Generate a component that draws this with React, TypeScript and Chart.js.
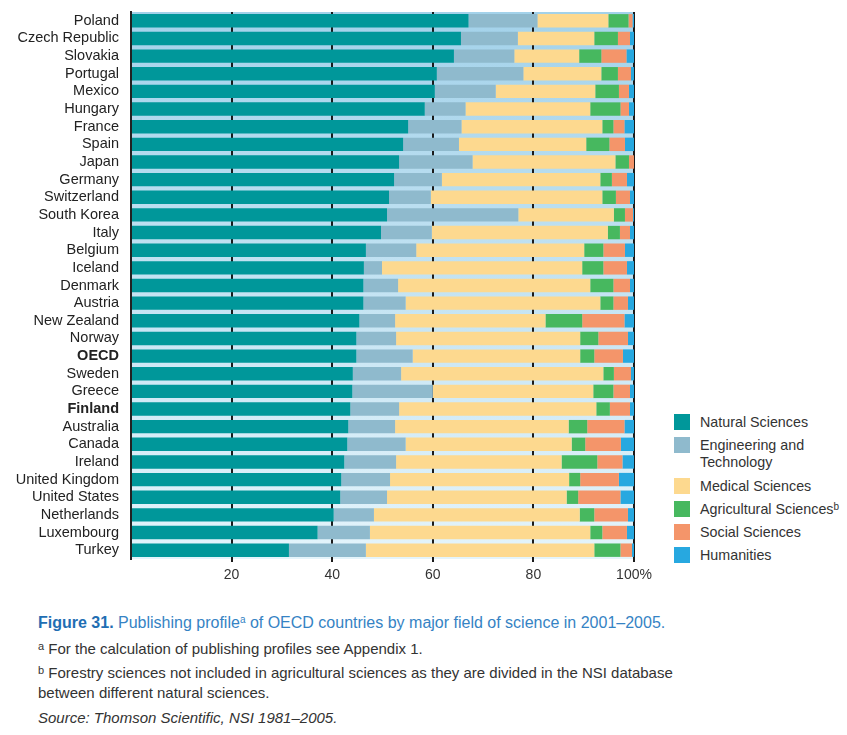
import React, { useEffect, useRef } from "react";
import { Chart, registerables } from "chart.js";

Chart.register(...registerables);

const countries = [
  "Poland", "Czech Republic", "Slovakia", "Portugal", "Mexico", "Hungary", "France", "Spain",
  "Japan", "Germany", "Switzerland", "South Korea", "Italy", "Belgium", "Iceland", "Denmark",
  "Austria", "New Zealand", "Norway", "OECD", "Sweden", "Greece", "Finland", "Australia",
  "Canada", "Ireland", "United Kingdom", "United States", "Netherlands", "Luxembourg", "Turkey",
];
const boldCountries = ["OECD", "Finland"];

const naturalSciences = [
  67.1, 65.6, 64.2, 60.8, 60.4, 58.4, 55.1, 54.1, 53.3, 52.3, 51.3, 50.9, 49.7, 46.7, 46.3, 46.2,
  46.2, 45.4, 44.8, 44.8, 44.1, 44.0, 43.6, 43.2, 43.0, 42.4, 41.8, 41.6, 40.3, 37.1, 31.4,
];
const engineering = [
  13.7, 11.3, 12.0, 17.2, 12.1, 8.1, 10.6, 11.1, 14.6, 9.5, 8.3, 26.1, 10.1, 10.0, 3.6, 6.9,
  8.4, 7.1, 7.9, 11.2, 9.6, 16.0, 9.7, 9.3, 11.6, 10.3, 9.7, 9.3, 8.0, 10.4, 15.3,
];
const medical = [
  14.1, 15.2, 12.9, 15.5, 19.8, 24.8, 28.0, 25.3, 28.4, 31.5, 34.1, 19.0, 35.0, 33.4, 39.8, 38.2,
  38.7, 29.9, 36.6, 33.3, 40.2, 31.9, 39.2, 34.5, 33.0, 32.9, 35.6, 35.7, 40.9, 43.8, 45.4,
];
const agricultural = [
  4.0, 4.7, 4.4, 3.3, 4.7, 6.0, 2.2, 4.6, 2.7, 2.3, 2.7, 2.2, 2.4, 3.8, 4.2, 4.6,
  2.6, 7.3, 3.6, 2.8, 2.1, 4.0, 2.7, 3.7, 2.7, 7.1, 2.2, 2.3, 2.9, 2.4, 5.2,
];
const social = [
  0.8, 2.4, 5.0, 2.6, 2.0, 1.7, 2.2, 3.1, 1.0, 3.0, 2.8, 1.6, 2.0, 4.3, 4.7, 3.3,
  2.9, 8.4, 5.9, 5.7, 3.4, 3.3, 4.0, 7.4, 7.1, 5.0, 7.7, 8.4, 6.7, 4.9, 2.3,
];
const humanities = [
  0.3, 0.8, 1.5, 0.6, 1.0, 1.0, 1.9, 1.8, 0.0, 1.4, 0.8, 0.2, 0.8, 1.8, 1.4, 0.8,
  1.2, 1.9, 1.2, 2.2, 0.6, 0.8, 0.8, 1.9, 2.6, 2.3, 3.0, 2.7, 1.2, 1.4, 0.4,
];

const xTicks = [20, 40, 60, 80, 100];

const seriesNames = [
  "Natural Sciences",
  "Engineering and Technology",
  "Medical Sciences",
  "Agricultural Sciences",
  "Social Sciences",
  "Humanities",
];
const seriesColors = ["#00979a", "#8fbacd", "#fdd98f", "#47b85f", "#f4956a", "#27a8e0"];
const seriesData = [naturalSciences, engineering, medical, agricultural, social, humanities];

const FONT = "'Liberation Sans', Arial, sans-serif";

const bgPlugin = {
  id: "plotBg",
  beforeDraw(chart: any) {
    const { ctx, chartArea } = chart;
    if (!chartArea) return;
    const g = ctx.createLinearGradient(0, chartArea.top, 0, chartArea.bottom);
    g.addColorStop(0, "#a3d2ea");
    g.addColorStop(1, "#e4f4fb");
    ctx.save();
    ctx.fillStyle = g;
    ctx.fillRect(chartArea.left, chartArea.top, chartArea.right - chartArea.left, chartArea.bottom - chartArea.top);
    ctx.restore();
  },
};

function ChartView() {
  const ref = useRef<HTMLCanvasElement>(null);
  useEffect(() => {
    if (!ref.current) return;
    const chart = new Chart(ref.current, {
      type: "bar",
      data: {
        labels: countries,
        datasets: seriesNames.map((name, i) => ({
          label: name,
          data: seriesData[i],
          backgroundColor: seriesColors[i],
          borderWidth: 0,
          categoryPercentage: 1,
          barPercentage: 0.76,
        })),
      },
      plugins: [bgPlugin],
      options: {
        indexAxis: "y",
        animation: false,
        responsive: false,
        devicePixelRatio: 1,
        layout: { padding: { top: 12, left: 0, right: 26, bottom: 0 } },
        plugins: {
          legend: { display: false },
          tooltip: { enabled: false },
          title: { display: false },
        },
        scales: {
          x: {
            stacked: true,
            min: 0,
            max: 100,
            afterFit: (s: any) => {
              s.height = 31;
            },
            afterBuildTicks: (s: any) => {
              s.ticks = [0, ...xTicks].map((v) => ({ value: v }));
            },
            border: { display: false },
            grid: {
              color: (c: any) => (c.tick && c.tick.value === 0 ? "rgba(0,0,0,0)" : "#1a1a1a"),
              lineWidth: 2,
              drawTicks: true,
              tickLength: 3,
              tickColor: (c: any) => (c.tick && c.tick.value === 0 ? "rgba(0,0,0,0)" : "#1a1a1a"),
            },
            ticks: {
              padding: 5,
              color: "#333333",
              font: { family: FONT, size: 14 },
              maxRotation: 0,
              callback: (v: any) => (v === 0 ? "" : v === 100 ? "100%" : String(v)),
            },
          },
          y: {
            stacked: true,
            afterFit: (s: any) => {
              s.width = 131;
              s.paddingTop = 0;
              s.paddingBottom = 0;
            },
            border: { display: true, color: "#222222", width: 2 },
            grid: { display: false, drawTicks: false },
            ticks: {
              padding: 12,
              color: "#222222",
              autoSkip: false,
              font: (c: any) => ({
                family: FONT,
                size: 14.5,
                weight: boldCountries.includes(countries[c.index]) ? "bold" : "normal",
              }),
            },
          },
        },
      },
    });
    return () => chart.destroy();
  }, []);
  return (
    <canvas
      ref={ref}
      width={660}
      height={590}
      style={{ position: "absolute", left: 0, top: 0, width: 660, height: 590 }}
    />
  );
}

const legendTops = [414, 437, 478, 501, 524, 547];

export default function App() {
  return (
    <div style={{ position: "absolute", left: 0, top: 0, width: 847, height: 735, background: "#ffffff", fontFamily: FONT }}>
      <ChartView />
      {seriesNames.map((name, i) => (
        <div key={name} style={{ position: "absolute", left: 674, top: legendTops[i] }}>
          <div style={{ position: "absolute", left: 0, top: 0, width: 16, height: 16, background: seriesColors[i] }} />
          <div
            style={{
              position: "absolute",
              left: 26,
              top: 0,
              width: 160,
              fontSize: 14.3,
              lineHeight: "17px",
              color: "#333333",
              whiteSpace: "nowrap",
            }}
          >
            {i === 1 ? (
              <>
                Engineering and
                <br />
                Technology
              </>
            ) : i === 3 ? (
              <>
                {name}
                <sup style={{ fontSize: 10, verticalAlign: "4px", lineHeight: 0 }}>b</sup>
              </>
            ) : (
              name
            )}
          </div>
        </div>
      ))}
      <div style={{ position: "absolute", left: 38, top: 613, fontSize: 16, color: "#3583c4", whiteSpace: "nowrap", lineHeight: "20px" }}>
        <b style={{ color: "#1f6eb3" }}>Figure 31.</b> Publishing profile
        <sup style={{ fontSize: 10, verticalAlign: "5px", lineHeight: 0 }}>a</sup> of OECD countries by major field of science in 2001–2005.
      </div>
      <div style={{ position: "absolute", left: 38, top: 639, fontSize: 15, color: "#333333", whiteSpace: "nowrap", lineHeight: "20px" }}>
        <sup style={{ fontSize: 11, verticalAlign: "4px", lineHeight: 0 }}>a</sup> For the calculation of publishing profiles see Appendix 1.
      </div>
      <div style={{ position: "absolute", left: 38, top: 663, fontSize: 15, color: "#333333", whiteSpace: "nowrap", lineHeight: "20px" }}>
        <sup style={{ fontSize: 11, verticalAlign: "4px", lineHeight: 0 }}>b</sup> Forestry sciences not included in agricultural sciences as they are divided in the NSI database
        <br />
        between different natural sciences.
      </div>
      <div style={{ position: "absolute", left: 38, top: 708, fontSize: 15, color: "#333333", whiteSpace: "nowrap", lineHeight: "20px", fontStyle: "italic" }}>
        Source: Thomson Scientific, NSI 1981–2005.
      </div>
    </div>
  );
}
